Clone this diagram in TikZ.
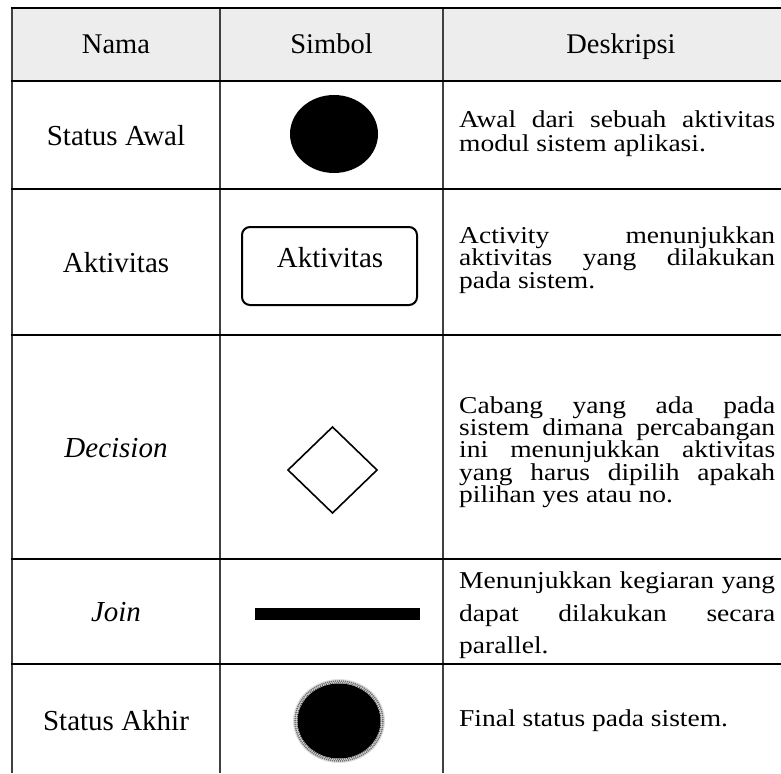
\documentclass[tikz,border=0pt]{standalone}
\usepackage{fontspec}
\setmainfont{Liberation Serif}
\newcommand{\jline}[1]{\scalebox{1}[0.88]{\makebox[316pt][s]{#1}}}
\newcommand{\nline}[1]{\scalebox{1}[0.88]{#1}}
\begin{document}
\begin{tikzpicture}[x=1pt,y=-1pt,
  hline/.style={line width=2.8pt,black},
  vline/.style={line width=1.4pt,black!75},
  headtxt/.style={font=\fontsize{28.5pt}{34pt}\selectfont,anchor=base,inner sep=0pt},
  nametxt/.style={font=\fontsize{29pt}{34pt}\selectfont,anchor=base,inner sep=0pt},
  desctxt/.style={font=\fontsize{27.5pt}{22pt}\selectfont,anchor=base west,inner sep=0pt},
]
\useasboundingbox (0,0) rectangle (781,773);
% header background
\fill[black!7] (12,8) rectangle (781,81);
% vertical rules
\draw[vline] (12,8) -- (12,773);
\draw[vline] (220,8) -- (220,773);
\draw[vline] (443,8) -- (443,773);
% horizontal rules
\foreach \yy in {8,81,189,335,559,664}{
  \draw[hline] (10.5,\yy) -- (781,\yy);
}
% header
\node[headtxt] (h1) at (116,53.5) {Nama};
\node[headtxt] (h2) at (331.5,53.5) {Simbol};
\node[headtxt] (h3) at (621,53.5) {Deskripsi};
% names
\node[nametxt] (n1) at (116,145) {Status Awal};
\node[nametxt] (n2) at (116,272) {Aktivitas};
\node[nametxt] (n3) at (116,457) {\itshape Decision};
\node[nametxt] (n4) at (116,621) {\itshape Join};
\node[nametxt] (n5) at (116,730) {Status Akhir};
% symbols
\fill[black] (334,134) ellipse (44 and 39);
\draw[line width=2pt, rounded corners=8pt] (242,227) rectangle (417,305);
\node[nametxt] (s2) at (330,267) {Aktivitas};
\draw[line width=1.6pt, line join=miter] (288,470) -- (332.5,427) -- (377,470) -- (332.5,513) -- cycle;
\fill[black] (255,608) rectangle (420,620);
\fill[black!12] (339,721) ellipse (46 and 42);
\draw[black!55, line width=1.6pt, dash pattern=on 1.2pt off 0.8pt] (339,721) ellipse (44 and 40);
\fill[black] (339,721) ellipse (41.5 and 37.5);
\draw[black!70, line width=1pt, dash pattern=on 1pt off 1pt] (339,721) ellipse (42 and 38.3);
% descriptions
\node[desctxt] (d1a) at (459,128) {\jline{Awal dari sebuah aktivitas}};
\node[desctxt] (d1b) at (459,151) {\nline{modul sistem aplikasi.}};
\node[desctxt] (d2a) at (459,243) {\jline{Activity menunjukkan}};
\node[desctxt] (d2b) at (459,265.5) {\jline{aktivitas yang dilakukan}};
\node[desctxt] (d2c) at (459,288) {\nline{pada sistem.}};
\node[desctxt] (d3a) at (459,413) {\jline{Cabang yang ada pada}};
\node[desctxt] (d3b) at (459,435) {\jline{sistem dimana percabangan}};
\node[desctxt] (d3c) at (459,457.5) {\jline{ini menunjukkan aktivitas}};
\node[desctxt] (d3d) at (459,480) {\jline{yang harus dipilih apakah}};
\node[desctxt] (d3e) at (459,502) {\nline{pilihan yes atau no.}};
\node[desctxt] (d4a) at (459,588) {\jline{Menunjukkan kegiaran yang}};
\node[desctxt] (d4b) at (459,621) {\jline{dapat dilakukan secara}};
\node[desctxt] (d4c) at (459,653) {\nline{parallel.}};
\node[desctxt] (d5a) at (459,726) {\nline{Final status pada sistem.}};
\end{tikzpicture}
\end{document}
